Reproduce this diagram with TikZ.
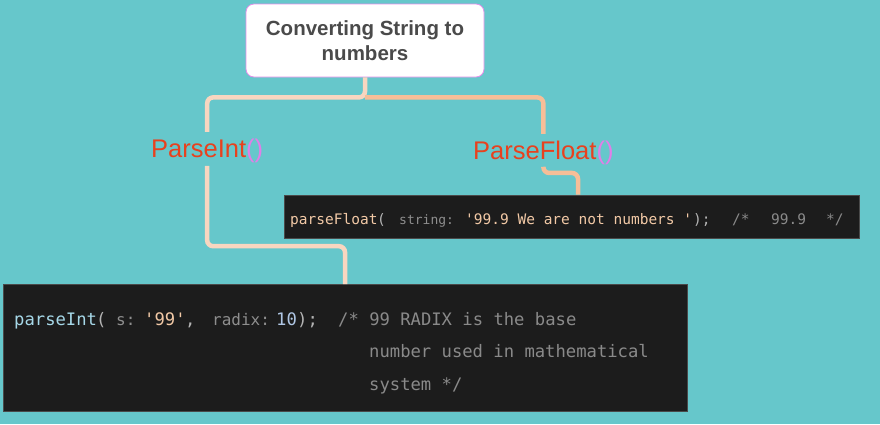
\documentclass[tikz,border=0pt]{standalone}
\usepackage{fontspec}
\setmainfont{Liberation Sans}
\newfontfamily\codefont{DejaVu Sans Mono}
\usetikzlibrary{calc}
\definecolor{bgteal}{HTML}{66C7CB}
\definecolor{titlegray}{HTML}{4A4A4A}
\definecolor{pinkborder}{HTML}{E38FEA}
\definecolor{labelred}{HTML}{E8411E}
\definecolor{parenpink}{HTML}{E07FE8}
\definecolor{connlight}{HTML}{F8D6C0}
\definecolor{connpeach}{HTML}{F6BE98}
\definecolor{codebg}{HTML}{1C1C1C}
\definecolor{codeborder}{HTML}{4A4A4A}
\definecolor{peach}{HTML}{F2C9A6}
\definecolor{hintgray}{HTML}{8E8E8E}
\definecolor{commgray}{HTML}{8A8A8A}
\definecolor{punctgray}{HTML}{B4B4B4}
\definecolor{fnblue}{HTML}{A6D8E8}
\definecolor{numblue}{HTML}{AFC6E4}
\tikzset{
  titlebox/.style={draw=pinkborder, line width=0.8pt, fill=white, rounded corners=8pt,
    minimum width=238pt, minimum height=73pt, inner sep=0pt, align=center,
    font=\fontsize{20.5}{24.7}\selectfont\bfseries, text=titlegray},
  fnlabel/.style={inner xsep=0pt, inner ysep=3.5pt, anchor=base west,
    font=\fontsize{25.5}{28}\selectfont, text=labelred},
  codebox/.style={draw=codeborder, line width=0.6pt, fill=codebg, inner sep=0pt},
  connA/.style={draw=connlight, line width=4.5pt, rounded corners=6pt},
  connB/.style={draw=connpeach, line width=4.5pt, rounded corners=6pt},
  ftxt/.style={anchor=base west, inner sep=0pt, font=\codefont\fontsize{14.5}{17}\selectfont},
  fhint/.style={anchor=base west, inner sep=0pt, font=\codefont\fontsize{13}{15}\selectfont, text=hintgray},
  itxt/.style={anchor=base west, inner sep=0pt, font=\codefont\fontsize{17.2}{20}\selectfont},
  ihint/.style={anchor=base west, inner sep=0pt, font=\codefont\fontsize{16}{19}\selectfont, text=hintgray},
}
\begin{document}
\begin{tikzpicture}[x=1pt, y=-1pt]
\fill[bgteal] (0,0) rectangle (880,424);
\useasboundingbox (0,0) rectangle (880,424);

% title
\node[titlebox] (title) at (365,40.5) {Converting String to\\numbers};

% labels
\node[fnlabel] (pint) at (151,157) {ParseInt\textcolor{parenpink}{()}};
\node[fnlabel] (pfloat) at (473,159) {ParseFloat\textcolor{parenpink}{()}};

% code boxes
\node[codebox, minimum width=575pt, minimum height=43pt] (fbox) at (571.5,216.5) {};
\node[codebox, minimum width=684pt, minimum height=127pt] (ibox) at (345,348) {};

% connectors
\draw[connA] (title.south) -- ++(0,20) coordinate (j) -| ([yshift=3pt]pint.north);
\draw[connB] (j) -| ([yshift=3pt]pfloat.north);
\draw[connA] (pint.south) |- ([yshift=38pt]ibox.north) -- (ibox.north);
\draw[connB] (pfloat.south) -- ++(0,5) -| ([xshift=6.5pt]fbox.north);

% parseFloat line
\node[ftxt, text=peach] (f1) at (290,224) {parseFloat};
\node[ftxt, text=punctgray] (f2) at (377,224) {(};
\node[fhint] (f3) at (399,224) {string:};
\node[ftxt, text=peach] (f4) at (465,224) {'99.9 We are not numbers '};
\node[ftxt, text=punctgray] (f5) at (693,224) {);};
\node[ftxt, text=commgray] (f6) at (732,224) {/*};
\node[ftxt, text=commgray] (f7) at (771,224) {99.9};
\node[ftxt, text=commgray] (f8) at (826,224) {*/};

% parseInt lines
\node[itxt, text=fnblue] (i1) at (14,325) {parseInt};
\node[itxt, text=punctgray] (i2) at (96,325) {(};
\node[ihint] (i3) at (116,325) {s:};
\node[itxt, text=peach] (i4) at (144,325) {'99'};
\node[itxt, text=punctgray] (i5) at (185,325) {,};
\node[ihint] (i6) at (212,325) {radix:};
\node[itxt, text=numblue] (i7) at (276,325) {10};
\node[itxt, text=punctgray] (i8) at (297,325) {);};
\node[itxt, text=commgray] (i9) at (338,325) {/* 99 RADIX is the base};
\node[itxt, text=commgray] (i10) at (369,357.5) {number used in mathematical};
\node[itxt, text=commgray] (i11) at (369,390.5) {system */};
\end{tikzpicture}
\end{document}
